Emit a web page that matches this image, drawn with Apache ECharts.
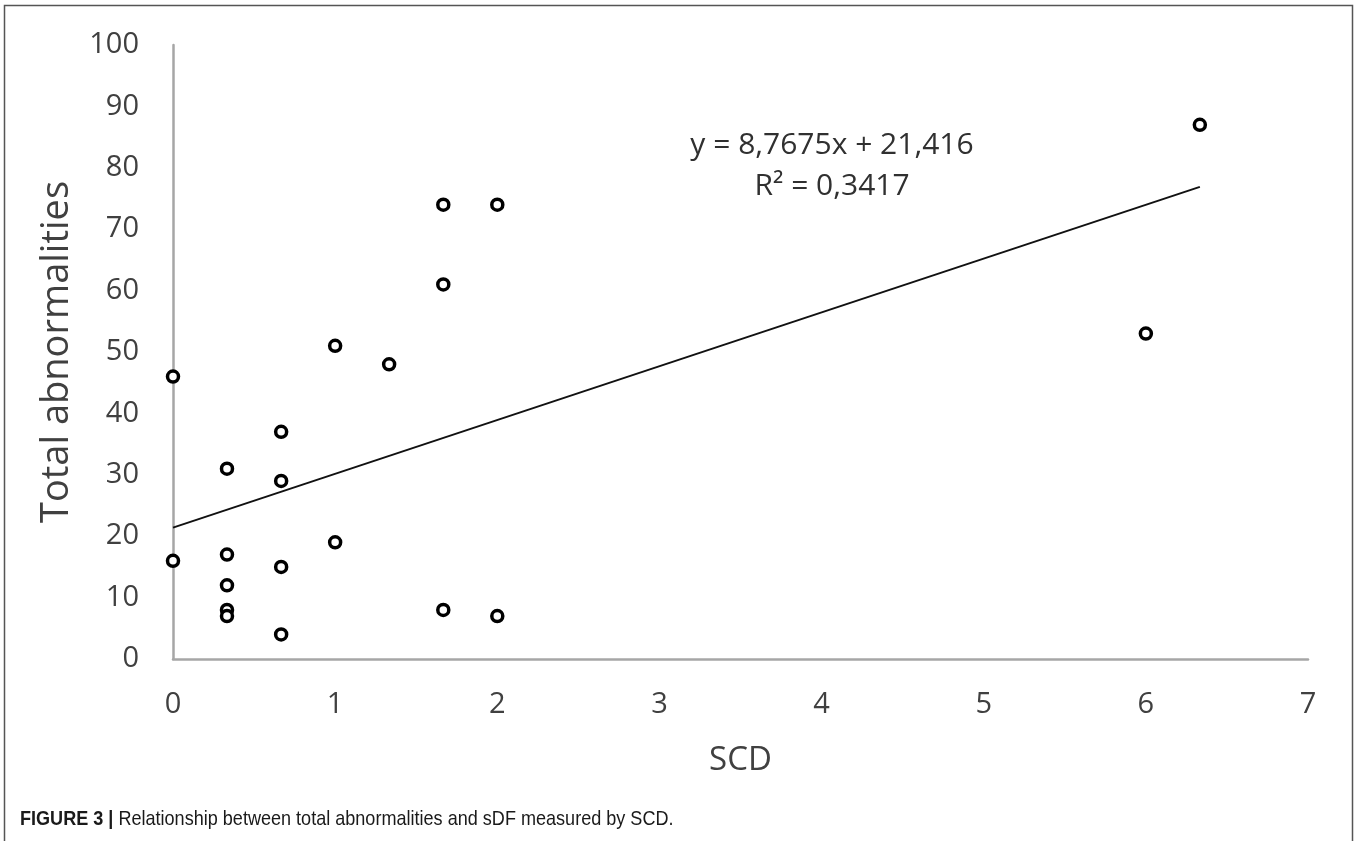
<!DOCTYPE html>
<html>
<head>
<meta charset="utf-8">
<script src="https://cdn.jsdelivr.net/npm/echarts@6/dist/echarts.min.js"></script>
<style>
  html, body { margin: 0; padding: 0; background: #fff; }
  #chart { width: 1359px; height: 841px; }
</style>
</head>
<body>
<div id="chart"></div>
<script>
  // SCD vs total abnormalities, one entry per sample
  var scd = [0, 0, 0.333, 0.333, 0.333, 0.333, 0.333, 0.667, 0.667, 0.667, 0.667,
             1, 1, 1.333, 1.667, 1.667, 1.667, 2, 2, 6, 6.333];
  var totalAbn = [46, 16, 31, 17, 12, 8, 7, 37, 29, 15, 4,
                  51, 19, 48, 74, 61, 8, 74, 7, 53, 87];

  // linear trend line end points (y = 8,7675x + 21,416)
  var trendX = [0, 6.333];
  var trendY = [21.4, 76.9];

  var equationText = "y = 8,7675x + 21,416";
  var r2Text = "R² = 0,3417";
  var captionBold = "FIGURE 3 |";
  var captionText = " Relationship between total abnormalities and sDF measured by SCD.";

  var FONT = "'Open Sans', 'Noto Sans', sans-serif";
  var CAPTION_FONT = "'Liberation Sans', Arial, sans-serif";
  var TEXT = "#404040";

  var chart = echarts.init(document.getElementById("chart"), null, { renderer: "canvas" });

  chart.setOption({
    backgroundColor: "#fff",
    animation: false,
    title: {
      text: equationText + "\n" + r2Text,
      left: 827,
      top: 120,
      textAlign: "center",
      textStyle: { fontFamily: FONT, fontSize: 30, fontWeight: "normal", color: "#303030", lineHeight: 41, align: "center" }
    },
    grid: { left: 173, right: 51, top: 45, bottom: 182, containLabel: false },
    xAxis: {
      type: "value",
      min: 0,
      max: 7,
      interval: 1,
      name: "SCD",
      nameLocation: "middle",
      nameGap: 85,
      nameTextStyle: { fontFamily: FONT, fontSize: 33, color: TEXT },
      axisLine: { show: true, lineStyle: { color: "#a6a6a6", width: 2.5 } },
      axisTick: { show: false },
      splitLine: { show: false },
      axisLabel: { fontFamily: FONT, fontSize: 29, color: TEXT, margin: 31 }
    },
    yAxis: {
      type: "value",
      min: 0,
      max: 100,
      interval: 10,
      name: "Total abnormalities",
      nameLocation: "middle",
      nameGap: 97,
      nameTextStyle: { fontFamily: FONT, fontSize: 38, color: TEXT },
      axisLine: { show: true, lineStyle: { color: "#a6a6a6", width: 2.5 } },
      axisTick: { show: false },
      splitLine: { show: false },
      axisLabel: { fontFamily: FONT, fontSize: 29, color: TEXT, margin: 34 }
    },
    series: [
      {
        name: "Trend",
        type: "line",
        data: trendX.map(function (x, i) { return [x, trendY[i]]; }),
        showSymbol: false,
        lineStyle: { color: "#111", width: 2 },
        z: 2
      },
      {
        name: "Samples",
        type: "scatter",
        data: scd.map(function (x, i) { return [x, totalAbn[i]]; }),
        symbol: "circle",
        symbolSize: 11,
        itemStyle: { color: "#fff", borderColor: "#000", borderWidth: 3.5, opacity: 1 },
        z: 3
      }
    ],
    graphic: [
      {
        type: "rect",
        shape: { x: 4.5, y: 5.5, width: 1348, height: 845 },
        style: { fill: null, stroke: "#555", lineWidth: 1.5 },
        silent: true
      },
      {
        // caption, condensed horizontally like the journal's narrow face
        type: "text",
        x: 20,
        y: 809,
        scaleX: 0.86,
        silent: true,
        style: {
          text: "{b|" + captionBold + "}{r|" + captionText + "}",
          fill: "#1a1a1a",
          rich: {
            b: { fontFamily: CAPTION_FONT, fontSize: 21, fontWeight: "bold", fill: "#1a1a1a" },
            r: { fontFamily: CAPTION_FONT, fontSize: 21, fontWeight: "normal", fill: "#1a1a1a" }
          }
        }
      }
    ]
  });
</script>
</body>
</html>
